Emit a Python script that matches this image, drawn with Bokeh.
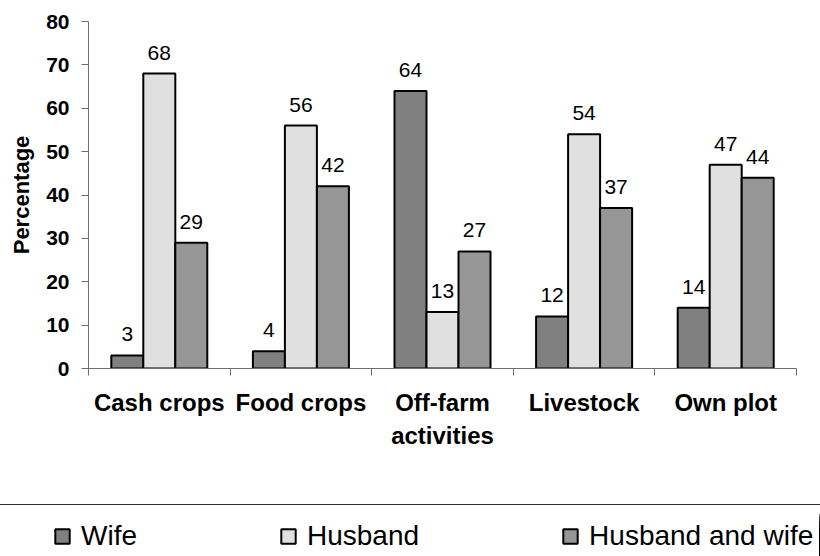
from bokeh.plotting import figure
from bokeh.models import FixedTicker, Legend, LegendItem, ColumnDataSource, Range1d, Div
from bokeh.layouts import column
from bokeh.embed import file_html
from bokeh.resources import INLINE
from bokeh.core.properties import value
from bokeh.transform import dodge

categories = ["Cash crops", "Food crops", "Off-farm activities", "Livestock", "Own plot"]
category_labels = ["Cash crops", "Food crops", "Off-farm\nactivities", "Livestock", "Own plot"]
series = ["Wife", "Husband", "Husband and wife"]
wife = [3, 4, 64, 12, 14]
husband = [68, 56, 13, 54, 47]
husband_and_wife = [29, 42, 27, 37, 44]
colors = ["#808080", "#e0e0e0", "#969696"]
y_ticks = [0, 10, 20, 30, 40, 50, 60, 70, 80]

FONT = "Liberation Sans"
AXIS_COLOR = "#6e6e6e"

centers = [i + 0.5 for i in range(len(categories))]
data = dict(x=centers)
keys = ["wife", "husband", "hw"]
for k, vals in zip(keys, [wife, husband, husband_and_wife]):
    data[k] = vals
    data[k + "_lbl"] = [str(v) for v in vals]
src = ColumnDataSource(data)

p = figure(width=820, height=504, x_range=Range1d(0, len(categories)), y_range=Range1d(0, 80),
           output_backend="svg", toolbar_location=None,
           min_border_left=88, min_border_right=24, min_border_top=21, min_border_bottom=136)

bw = 0.226
offsets = [-bw, 0, bw]
for k, c, off in zip(keys, colors, offsets):
    p.vbar(x=dodge("x", off), top=k, width=bw, source=src, fill_color=c,
           line_color="black", line_width=2)
    p.text(x=dodge("x", off), y=k, text=k + "_lbl", source=src, text_align="center",
           text_baseline="alphabetic", y_offset=-21, text_font=value(FONT),
           text_font_size="21px", text_color="black")

p.xgrid.visible = False
p.ygrid.visible = False
p.outline_line_color = None

xa = p.xaxis[0]
xa.ticker = FixedTicker(ticks=centers, minor_ticks=list(range(len(categories) + 1)))
xa.major_label_overrides = {c: lab for c, lab in zip(centers, category_labels)}
xa.major_tick_out = 0
xa.major_tick_in = 0
xa.minor_tick_out = 7
xa.minor_tick_in = 0
xa.minor_tick_line_color = AXIS_COLOR
xa.axis_line_color = AXIS_COLOR
xa.major_label_text_font = FONT
xa.major_label_text_font_size = "24px"
xa.major_label_text_font_style = "bold"
xa.major_label_text_color = "black"
xa.major_label_standoff = 13
xa.major_label_text_line_height = 1.25

ya = p.yaxis[0]
ya.ticker = FixedTicker(ticks=y_ticks, minor_ticks=[])
ya.major_tick_out = 7
ya.major_tick_in = 0
ya.major_tick_line_color = AXIS_COLOR
ya.axis_line_color = AXIS_COLOR
ya.major_label_text_font = FONT
ya.major_label_text_font_size = "21px"
ya.major_label_text_font_style = "bold"
ya.major_label_text_color = "black"
ya.major_label_standoff = 12
ya.axis_label = "Percentage"
ya.axis_label_text_font = FONT
ya.axis_label_text_font_size = "22px"
ya.axis_label_text_font_style = "bold"
ya.axis_label_text_color = "black"
ya.axis_label_standoff = 9

# separator line across the full width
sep = Div(text="", width=820, height=2, margin=0,
          styles={"border-top": "1.5px solid #333333", "box-sizing": "border-box"})

# legend strip (separate root, so its frame is not aligned to the chart's frame):
# the series renderers are repeated here with an x range far away from them,
# so that only their legend swatches show
p2 = figure(width=820, height=50, x_range=Range1d(-100, -99), y_range=Range1d(0, 80),
            output_backend="svg", toolbar_location=None,
            x_axis_location=None, y_axis_location=None,
            min_border_left=0, min_border_right=0, min_border_top=0, min_border_bottom=0)
p2.xgrid.visible = False
p2.ygrid.visible = False
p2.outline_line_color = None

rs = [p2.vbar(x=dodge("x", off), top=k, width=bw, source=src, fill_color=c,
              line_color="black", line_width=2)
      for k, c, off in zip(keys, colors, offsets)]
legend = Legend(items=[LegendItem(label=s, renderers=[r]) for s, r in zip(series, rs)],
                orientation="horizontal", location=(53, 4), spacing=142,
                glyph_width=18, glyph_height=18, label_standoff=10, padding=0, margin=0,
                border_line_color=None, background_fill_alpha=0,
                label_text_font=FONT, label_text_font_size="28px", label_text_color="black")
p2.add_layout(legend)

top = column(p, sep, spacing=0)
open("out.html", "w").write(file_html([top, p2], INLINE))
